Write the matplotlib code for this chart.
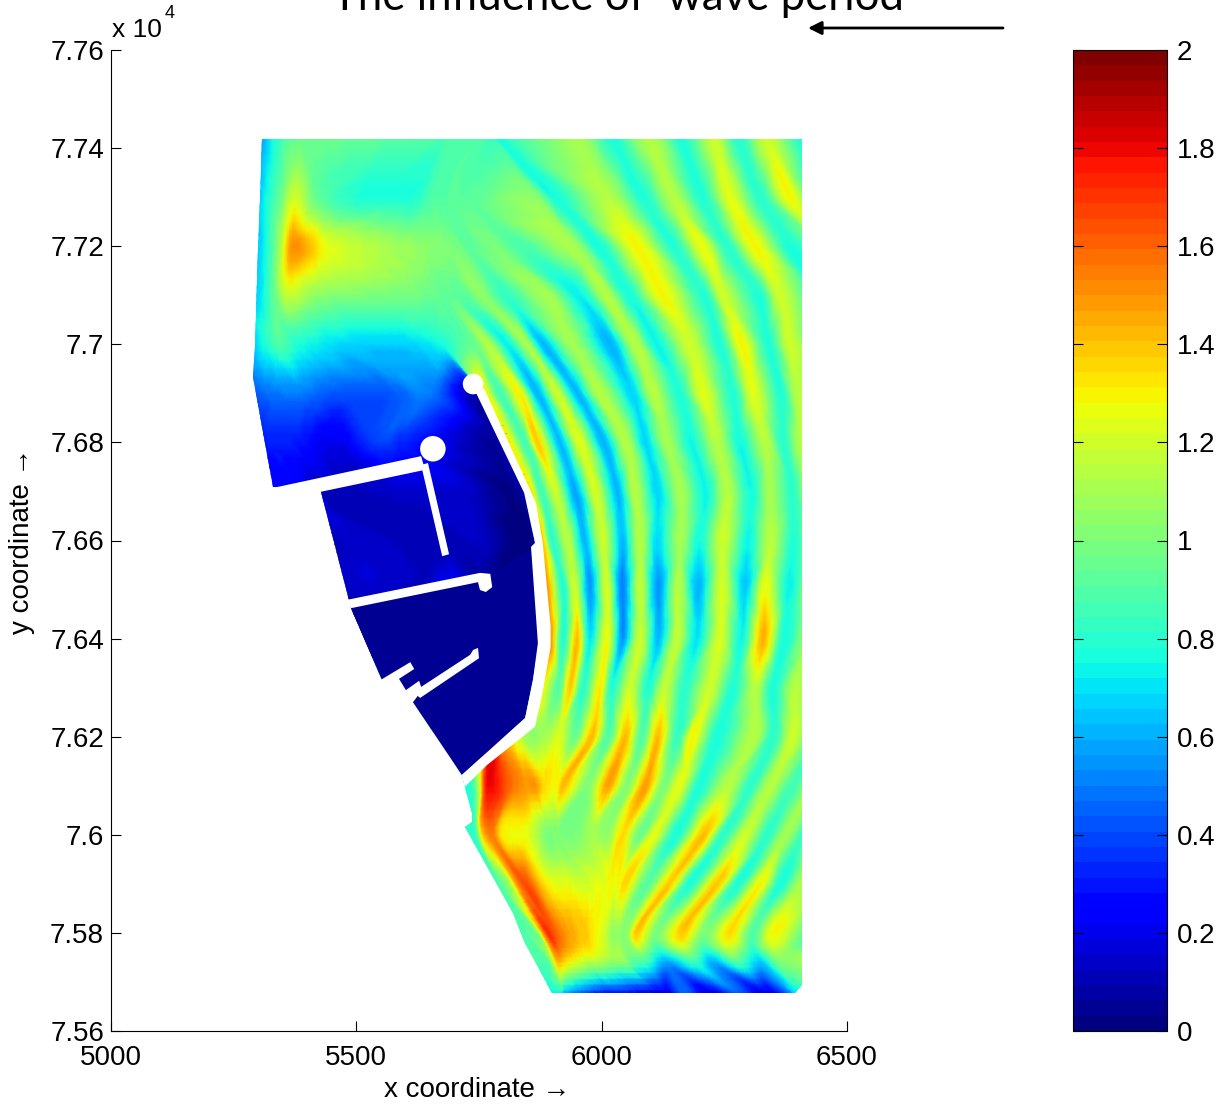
import matplotlib
matplotlib.use("Agg")
import matplotlib.pyplot as plt
import matplotlib.tri as mtri
from matplotlib.patches import Polygon, Circle, FancyArrowPatch
import numpy as np

plt.rcParams["font.family"] = ["Liberation Sans", "DejaVu Sans"]

# wave height field, sampled along the crests and troughs of the wave bands
# every row of band_x is one y coordinate, every column follows one band
sample_y = [77430, 77300, 77200, 77100, 77000, 76900, 76800, 76700, 76600, 76500,
            76400, 76300, 76200, 76100, 76000, 75900, 75800, 75740, 75670]

band_x = [
    [5284, 5310, 5334, 5385, 5467, 5589, 5671, 5691, 5703, 5716, 5728, 5740, 5752, 5764, 5773, 5781, 5787, 5942, 6017, 6093, 6160, 6227, 6276, 6333, 6404, 6465, 6527],
    [5284, 5312, 5345, 5375, 5426, 5508, 5610, 5640, 5650, 5661, 5671, 5681, 5691, 5701, 5738, 5860, 5909, 6011, 6084, 6146, 6207, 6262, 6323, 6384, 6435, 6486, 6527],
    [5284, 5312, 5341, 5369, 5410, 5457, 5548, 5630, 5650, 5671, 5691, 5711, 5732, 5783, 5844, 5940, 5997, 6072, 6146, 6205, 6256, 6313, 6378, 6445, 6486, 6516, 6547],
    [5284, 5308, 5334, 5361, 5416, 5528, 5630, 5661, 5681, 5701, 5722, 5758, 5807, 5889, 5956, 6009, 6058, 6125, 6207, 6247, 6319, 6364, 6435, 6465, 6496, 6527, 6557],
    [5284, 5314, 5345, 5385, 5467, 5589, 5671, 5716, 5742, 5773, 5809, 5848, 5881, 5942, 6017, 6068, 6113, 6180, 6241, 6286, 6339, 6384, 6435, 6465, 6496, 6527, 6557],
    [5284, 5324, 5385, 5467, 5569, 5650, 5748, 5760, 5793, 5834, 5869, 5909, 5950, 5997, 6062, 6105, 6160, 6207, 6268, 6309, 6364, 6400, 6455, 6486, 6516, 6547, 6578],
    [5294, 5334, 5385, 5457, 5542, 5620, 5799, 5809, 5844, 5870, 5915, 5956, 6003, 6048, 6089, 6133, 6184, 6235, 6282, 6333, 6370, 6408, 6455, 6486, 6516, 6547, 6578],
    [5304, 5385, 5428, 5489, 5589, 5716, 5844, 5854, 5877, 5907, 5946, 5987, 6031, 6068, 6113, 6160, 6211, 6256, 6303, 6343, 6388, 6417, 6455, 6486, 6516, 6547, 6578],
    [5406, 5457, 5508, 5589, 5671, 5752, 5866, 5877, 5899, 5932, 5966, 6003, 6042, 6078, 6113, 6160, 6200, 6247, 6298, 6343, 6390, 6425, 6455, 6486, 6516, 6547, 6578],
    [5426, 5477, 5548, 5630, 5701, 5773, 5864, 5885, 5921, 5946, 5976, 6011, 6042, 6078, 6115, 6156, 6197, 6245, 6292, 6333, 6380, 6421, 6455, 6486, 6516, 6547, 6578],
    [5467, 5528, 5589, 5650, 5711, 5793, 5875, 5893, 5921, 5950, 5976, 6011, 6042, 6078, 6115, 6154, 6194, 6241, 6286, 6329, 6370, 6415, 6455, 6486, 6516, 6547, 6578],
    [5487, 5548, 5610, 5671, 5732, 5793, 5862, 5877, 5911, 5936, 5962, 5997, 6021, 6058, 6095, 6129, 6170, 6221, 6268, 6313, 6349, 6394, 6445, 6486, 6516, 6547, 6578],
    [5671, 5701, 5732, 5762, 5783, 5803, 5830, 5854, 5885, 5915, 5946, 5980, 6013, 6048, 6082, 6115, 6154, 6186, 6235, 6309, 6349, 6390, 6435, 6486, 6516, 6547, 6578],
    [5711, 5732, 5750, 5764, 5787, 5813, 5844, 5864, 5885, 5899, 5911, 5925, 5972, 6013, 6052, 6089, 6125, 6160, 6200, 6256, 6303, 6343, 6388, 6429, 6465, 6496, 6527],
    [5701, 5724, 5744, 5758, 5777, 5799, 5848, 5887, 5901, 5907, 5911, 5915, 5946, 5982, 6013, 6044, 6078, 6109, 6154, 6207, 6247, 6292, 6337, 6374, 6410, 6439, 6486],
    [5752, 5773, 5793, 5813, 5828, 5848, 5881, 5905, 5930, 5956, 5972, 5987, 6000, 6011, 6019, 6027, 6037, 6052, 6095, 6139, 6180, 6235, 6276, 6323, 6364, 6404, 6455],
    [5824, 5844, 5868, 5881, 5891, 5905, 5925, 5942, 5956, 5966, 5976, 5987, 5997, 6007, 6017, 6023, 6029, 6037, 6052, 6072, 6113, 6164, 6211, 6262, 6309, 6353, 6425],
    [5854, 5891, 5899, 5909, 5919, 5932, 5946, 5960, 5972, 5985, 5997, 6005, 6013, 6021, 6027, 6033, 6040, 6048, 6068, 6093, 6133, 6186, 6227, 6276, 6323, 6364, 6425],
    [5885, 5895, 5907, 5919, 5925, 5950, 5976, 5997, 6017, 6037, 6052, 6066, 6078, 6089, 6099, 6107, 6115, 6119, 6125, 6135, 6174, 6231, 6288, 6343, 6390, 6404, 6435],
]

band_height = [
    [.5, .6, .78, .95, .95, .92, .9, .9, .9, .9, .9, .9, .9, .88, .85, .82, .78, 1.1, .78, 1.15, .78, 1.2, .78, 1.2, .78, .8, .8],
    [.55, .72, .95, 1.2, .92, .78, .78, .85, .88, .9, .9, .9, .92, .92, .92, 1.05, .76, 1.15, .78, 1.15, .78, 1.25, .8, 1.3, .8, .8, .8],
    [.6, .72, 1.05, 1.5, 1.4, 1.22, 1.12, 1.05, 1.03, 1.02, 1.0, .98, .92, 1.0, .88, 1.12, .76, 1.3, .78, 1.28, .8, 1.3, .78, 1.0, .8, .8, .8],
    [.62, .72, .95, 1.18, 1.05, 1.0, .97, .95, .93, .93, .92, 1.05, .82, 1.1, .72, 1.15, .76, 1.3, .78, 1.2, .78, 1.2, .78, .8, .8, .8, .8],
    [.6, .78, .9, .78, .68, .66, .75, .9, .95, 1.12, .72, 1.12, .62, 1.1, .6, 1.15, .72, 1.2, .78, 1.3, .78, 1.2, .85, .85, .85, .85, .85],
    [.4, .48, .5, .42, .43, .5, .12, 1.3, .85, 1.3, .6, 1.2, .62, 1.15, .68, 1.15, .78, 1.25, .78, 1.25, .78, 1.15, .85, .85, .85, .85, .85],
    [.3, .32, .3, .2, .38, .3, .1, 1.3, .85, 1.4, .62, 1.25, .6, 1.15, .68, 1.1, .75, 1.15, .75, 1.15, .8, 1.15, .85, .85, .85, .85, .85],
    [.25, .22, .12, .12, .14, .15, .1, 1.3, .85, 1.2, .58, 1.22, .62, 1.15, .68, 1.1, .74, 1.15, .75, 1.1, .8, 1.05, .85, .85, .85, .85, .85],
    [.1, .12, .15, .12, .1, .13, .08, 1.4, .8, 1.15, .62, 1.2, .62, 1.15, .68, 1.1, .75, 1.2, .74, 1.15, .78, 1.05, .85, .85, .85, .85, .85],
    [.1, .14, .15, .12, .22, .06, .05, 1.5, .78, 1.2, .55, 1.22, .5, 1.18, .55, 1.15, .6, 1.22, .65, 1.28, .74, 1.05, .85, .85, .85, .85, .85],
    [.05, .05, .05, .05, .05, .05, .05, 1.5, .78, 1.42, .7, 1.28, .55, 1.2, .62, 1.18, .7, 1.22, .74, 1.45, .76, 1.05, .85, .85, .85, .85, .85],
    [.9, .9, .9, .9, .9, .9, .9, 1.3, .9, 1.4, .8, 1.32, .78, 1.2, .78, 1.18, .8, 1.2, .78, 1.15, .76, 1.15, .85, .85, .85, .85, .85],
    [.8, .8, 1.2, 1.7, 1.6, 1.4, 1.2, 1.05, 1.1, 1.22, .95, 1.42, .88, 1.42, .88, 1.42, .82, 1.3, .76, 1.15, .8, 1.2, .85, .9, .85, .85, .85],
    [.8, .8, 1.15, 1.75, 1.75, 1.6, 1.5, 1.5, 1.35, 1.3, 1.3, 1.42, 1.0, 1.48, 1.0, 1.48, 1.0, 1.25, .76, 1.15, .8, 1.15, .85, 1.1, .85, 1.0, 1.0],
    [.85, .85, .85, 1.4, 1.55, 1.3, 1.25, 1.0, 1.0, 1.0, 1.0, 1.0, 1.0, 1.1, 1.05, 1.35, .95, 1.25, .76, 1.42, .8, 1.2, .8, 1.1, .85, 1.1, 1.0],
    [.9, .9, .9, 1.1, 1.5, 1.65, 1.35, 1.25, 1.25, 1.2, 1.2, 1.25, 1.25, 1.25, 1.3, 1.25, 1.3, 1.35, .9, 1.4, .76, 1.4, .76, 1.3, .76, 1.1, .9],
    [.9, .9, 1.0, 1.5, 1.72, 1.62, 1.5, 1.45, 1.4, 1.4, 1.35, 1.3, 1.25, 1.2, 1.1, 1.05, 1.05, 1.05, 1.05, 1.4, 1.0, 1.4, 1.0, 1.35, .9, 1.3, .85],
    [.9, .9, 1.1, 1.4, 1.4, 1.3, 1.25, 1.2, 1.15, 1.15, 1.12, 1.1, 1.08, 1.05, 1.05, 1.05, 1.05, 1.05, .9, .85, .58, .85, .6, .9, .65, 1.0, 1.1],
    [.7, .7, .7, .7, .55, .42, .32, .25, .2, .2, .2, .18, .16, .14, .13, .12, .1, .1, .1, .12, .45, .12, .4, .15, .5, .7, .8],
]

# model domain outline and harbour structures, in model coordinates
domain_outline = [(5308, 77419), (6408, 77419), (6408, 75694), (6394, 75678), (5899, 75678),
                  (5844, 75780), (5820, 75841), (5779, 75914), (5722, 76016), (5736, 76026),
                  (5736, 76045), (5722, 76098), (5715, 76122), (5615, 76271), (5552, 76316),
                  (5489, 76462), (5426, 76707), (5330, 76709), (5289, 76933), (5294, 76995),
                  (5300, 77192), (5304, 77294)]
south_basin = [(5489, 76462), (5773, 76530), (5864, 76587), (5872, 76391), (5860, 76316),
               (5844, 76238), (5715, 76122), (5615, 76271), (5552, 76316)]
south_basin_height = 0.05

north_wall = [(5320, 76705), (5632, 76772), (5640, 76744), (5426, 76699)]
finger_pier = [(5632, 76754), (5646, 76758), (5689, 76572), (5675, 76568)]
middle_wall = [(5481, 76479), (5752, 76534), (5773, 76532), (5777, 76505), (5764, 76495),
               (5752, 76499), (5748, 76515), (5489, 76462)]
outer_wall = [(5760, 76911), (5866, 76677), (5880, 76595), (5896, 76424), (5896, 76383),
              (5885, 76322), (5878, 76281), (5864, 76220), (5766, 76142), (5721, 76098),
              (5715, 76122), (5844, 76238), (5860, 76316), (5870, 76391), (5856, 76587),
              (5864, 76595), (5842, 76697), (5744, 76901)]
south_pier = [(5738, 76377), (5748, 76381), (5750, 76360), (5630, 76279), (5616, 76291), (5732, 76367)]
south_stub = [(5550, 76316), (5610, 76352), (5618, 76338), (5587, 76318), (5601, 76295),
              (5628, 76314), (5634, 76295), (5616, 76271), (5579, 76260), (5530, 76300)]
structures = [north_wall, finger_pier, middle_wall, outer_wall, south_pier, south_stub]

# breakwater heads: x, y, radius
heads = [(5656, 76787, 26), (5738, 76919, 21)]

x_ticks = [5000, 5500, 6000, 6500]
y_ticks = [75600, 75800, 76000, 76200, 76400, 76600, 76800, 77000, 77200, 77400, 77600]
y_tick_labels = ["7.56", "7.58", "7.6", "7.62", "7.64", "7.66", "7.68", "7.7", "7.72", "7.74", "7.76"]
bar_ticks = [0, 0.2, 0.4, 0.6, 0.8, 1, 1.2, 1.4, 1.6, 1.8, 2]
bar_tick_labels = ["0", "0.2", "0.4", "0.6", "0.8", "1", "1.2", "1.4", "1.6", "1.8", "2"]

W, H = 1222, 1105
fig = plt.figure(figsize=(W / 100, H / 100), dpi=100)
ax = fig.add_axes([111 / W, 1 - 1031 / H, 736 / W, 981 / H])
cax = fig.add_axes([1073 / W, 1 - 1031 / H, 94 / W, 981 / H])

cmap = plt.get_cmap("jet", 64)
X = np.array(band_x, dtype=float)
Y = np.repeat(np.array(sample_y, dtype=float)[:, None], X.shape[1], axis=1)
Z = np.array(band_height)

# smooth mesh drawing: the table is refined with matplotlib's cubic interpolator,
# working in row/column index space so the bands stay curved
rows, cols = X.shape
jj, ii = np.meshgrid(np.arange(cols, dtype=float), np.arange(rows, dtype=float))
index_tri = mtri.Triangulation(jj.ravel(), ii.ravel())
fine_j, fine_i = np.meshgrid(np.linspace(0, cols - 1, (cols - 1) * 6 + 1),
                             np.linspace(0, rows - 1, (rows - 1) * 6 + 1))


def refine(table):
    interp = mtri.CubicTriInterpolator(index_tri, table.ravel(), kind="geom")
    return np.ma.filled(interp(fine_j, fine_i), np.nan)


fine_x = refine(X)
fine_y = refine(Y)
fine_z = np.clip(refine(Z), 0, 2)

mesh = ax.pcolormesh(fine_x, fine_y, fine_z, cmap=cmap, vmin=0, vmax=2, shading="gouraud")
outline = Polygon(domain_outline, closed=True, transform=ax.transData, fc="none", ec="none")
ax.add_patch(outline)
mesh.set_clip_path(outline)

ax.add_patch(Polygon(south_basin, closed=True, fc=cmap(south_basin_height / 2), ec="none", zorder=3))
for shape in structures:
    ax.add_patch(Polygon(shape, closed=True, fc="white", ec="none", zorder=4))
for hx, hy, hr in heads:
    ax.add_patch(Circle((hx, hy), hr, fc="white", ec="none", zorder=4))

ax.set_xlim(5000, 6500)
ax.set_ylim(75600, 77600)
ax.set_xticks(x_ticks)
ax.set_xticklabels([str(t) for t in x_ticks])
ax.set_yticks(y_ticks)
ax.set_yticklabels(y_tick_labels)
ax.spines["top"].set_visible(False)
ax.spines["right"].set_visible(False)
ax.tick_params(axis="both", direction="in", length=7, width=0.8, labelsize=20)
ax.tick_params(axis="x", pad=10)
ax.tick_params(axis="y", pad=5)

cbar = fig.colorbar(mesh, cax=cax, ticks=bar_ticks)
cbar.ax.set_yticklabels(bar_tick_labels)
cbar.ax.tick_params(direction="in", length=7, width=0.8, left=True, right=True, labelsize=20, pad=7)
cbar.outline.set_linewidth(0.8)

# labels sit where the original figure has them
fig.text(477 / W, 1 - 1090 / H, "x coordinate \u2192", ha="center", va="center", fontsize=20)
fig.text(22 / W, 1 - 541 / H, "y coordinate \u2192", ha="center", va="center", rotation=90, fontsize=20)
fig.text(112 / W, 1 - 30 / H, "x 10", ha="left", va="center", fontsize=19)
fig.text(165 / W, 1 - 14 / H, "4", ha="left", va="center", fontsize=13)

fig.text(618 / W, 1 - 10 / H, "The influence of  wave period", ha="center", va="baseline",
         fontsize=31.5, family=["Lato", "DejaVu Sans"])
fig.add_artist(FancyArrowPatch(
    (1003 / W, 1 - 28 / H), (808 / W, 1 - 28 / H), transform=fig.transFigure,
    arrowstyle="-|>", mutation_scale=20, lw=2, color="black", shrinkA=0, shrinkB=0))

fig.savefig("out.png", dpi=100)
plt.close(fig)
